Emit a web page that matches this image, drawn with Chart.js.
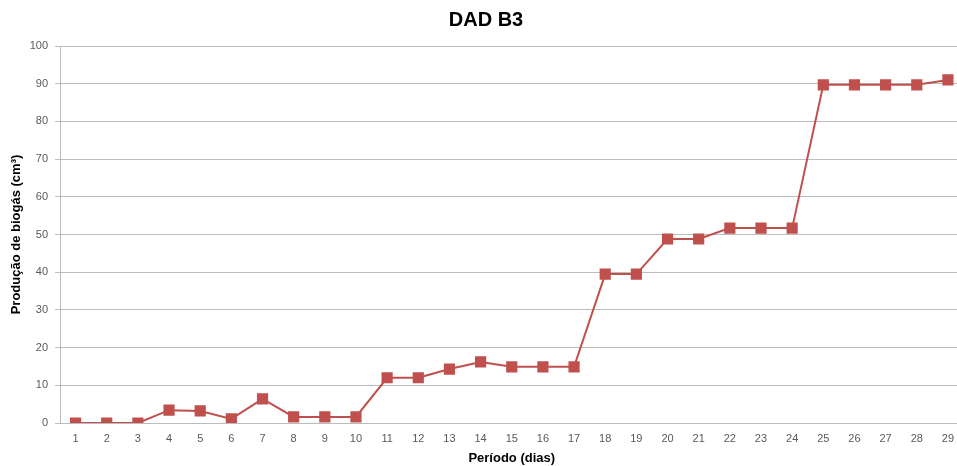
<!DOCTYPE html>
<html>
<head>
<meta charset="utf-8">
<script src="https://cdn.jsdelivr.net/npm/chart.js@4/dist/chart.umd.min.js"></script>
<style>
  html, body { margin: 0; padding: 0; background: #fff; overflow: hidden; }
  #wrap { width: 972px; height: 466px; }
</style>
</head>
<body>
<div id="wrap"><canvas id="grafica" width="972" height="466"></canvas></div>
<script>
// Dias do período
const dias = ["1", "2", "3", "4", "5", "6", "7", "8", "9", "10", "11", "12", "13", "14", "15",
  "16", "17", "18", "19", "20", "21", "22", "23", "24", "25", "26", "27", "28", "29"];

// Produção de biogás (cm3)
const producao = [0, 0, 0, 3.4, 3.2, 1.1, 6.4, 1.6, 1.6, 1.6, 12.0, 12.0, 14.3, 16.2, 14.9,
  14.9, 14.9, 39.5, 39.5, 48.8, 48.8, 51.7, 51.7, 51.7, 89.7, 89.7, 89.7, 89.7, 91.0];

const ticksY = [0, 10, 20, 30, 40, 50, 60, 70, 80, 90, 100];

const fonte = "Arial, 'Liberation Sans', sans-serif";
const corGrade = "#bcbcbc";

const ctx = document.getElementById("grafica").getContext("2d");

new Chart(ctx, {
  type: "line",
  data: {
    labels: dias,
    datasets: [
      {
        label: "DAD B3",
        data: producao,
        borderColor: "#c0504d",
        backgroundColor: "#c0504d",
        borderWidth: 2,
        pointStyle: "rect",
        pointRadius: 6.5,
        pointHoverRadius: 6.5,
        tension: 0,
      },
    ],
  },
  options: {
    responsive: false,
    animation: false,
    layout: { padding: 0 },
    plugins: {
      legend: { display: false },
      tooltip: { enabled: false },
      title: {
        display: true,
        text: "DAD B3",
        color: "#000",
        font: { family: fonte, size: 20, weight: "bold" },
        padding: { top: 8, bottom: 14 },
      },
    },
    scales: {
      x: {
        offset: true,
        grid: { display: false },
        border: { display: false },
        ticks: {
          color: "#595959",
          font: { family: fonte, size: 11 },
          padding: 1,
          maxRotation: 0,
          autoSkip: false,
        },
        title: {
          display: true,
          text: "Período (dias)",
          color: "#000",
          font: { family: fonte, size: 13, weight: "bold" },
          padding: { top: 0, bottom: 0 },
        },
        afterFit: (scale) => { scale.height = 43; },
      },
      y: {
        min: 0,
        max: 100,
        afterBuildTicks: (scale) => {
          scale.ticks = ticksY.map((v) => ({ value: v }));
        },
        grid: { color: corGrade, lineWidth: 1, tickLength: 5 },
        border: { color: corGrade },
        ticks: {
          color: "#595959",
          font: { family: fonte, size: 11 },
          padding: 7,
        },
        title: {
          display: true,
          text: "Produção de biogás (cm³)",
          color: "#000",
          font: { family: fonte, size: 13, weight: "bold" },
          padding: { top: 9, bottom: 4 },
        },
        afterFit: (scale) => { scale.width = 60; },
      },
    },
  },
});
</script>
</body>
</html>
